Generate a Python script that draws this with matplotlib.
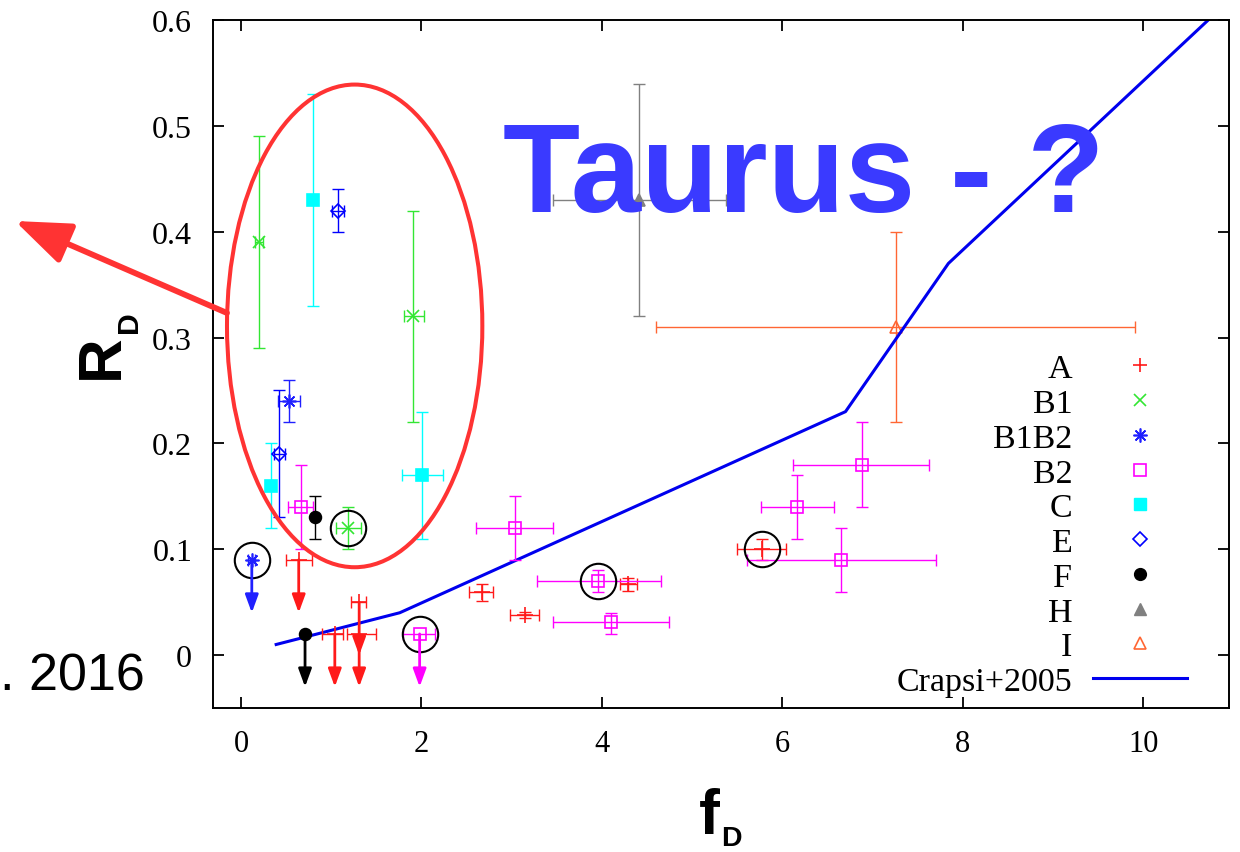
import numpy as np
import matplotlib.pyplot as plt
from matplotlib.lines import Line2D
from matplotlib.patches import Ellipse, FancyArrowPatch

plt.rcParams['font.family'] = 'Liberation Serif'

nan = np.nan

# ---- values ----
# detections: x, y, x range (lo, hi), y range (lo, hi); nan = no bar
A_x   = [2.67, 3.15, 4.29, 5.77]
A_y   = [0.060, 0.038, 0.067, 0.100]
A_xlo = [2.53, 2.98, 4.20, 5.50]
A_xhi = [2.79, 3.30, 4.39, 6.04]
A_ylo = [0.051, 0.035, 0.061, 0.090]
A_yhi = [0.067, 0.041, 0.073, 0.110]
# upper limits (arrow down): x, y, x range
A_ul_x   = [0.64, 1.04, 1.31, 1.31]
A_ul_y   = [0.090, 0.020, 0.020, 0.050]
A_ul_xlo = [0.50, 0.90, 1.17, 1.22]
A_ul_xhi = [0.79, 1.13, 1.50, 1.39]

B1_x   = [0.20, 1.91, 1.19]
B1_y   = [0.39, 0.32, 0.12]
B1_xlo = [0.16, 1.81, 1.05]
B1_xhi = [0.24, 2.03, 1.33]
B1_ylo = [0.29, 0.22, 0.10]
B1_yhi = [0.49, 0.42, 0.14]

B1B2_x   = [0.53]
B1B2_y   = [0.24]
B1B2_xlo = [0.41]
B1B2_xhi = [0.65]
B1B2_ylo = [0.22]
B1B2_yhi = [0.26]
B1B2_ul_x   = [0.12]
B1B2_ul_y   = [0.09]
B1B2_ul_xlo = [0.08]
B1B2_ul_xhi = [0.16]

B2_x   = [0.66, 3.04, 3.96, 4.10, 6.16, 6.88, 6.65]
B2_y   = [0.14, 0.12, 0.07, 0.031, 0.14, 0.18, 0.09]
B2_xlo = [0.52, 2.61, 3.28, 3.46, 5.76, 6.12, 5.61]
B2_xhi = [0.80, 3.46, 4.65, 4.74, 6.57, 7.63, 7.70]
B2_ylo = [0.10, 0.09, 0.06, 0.02, 0.11, 0.14, 0.06]
B2_yhi = [0.18, 0.15, 0.08, 0.04, 0.17, 0.22, 0.12]
B2_ul_x   = [1.98]
B2_ul_y   = [0.02]
B2_ul_xlo = [1.80]
B2_ul_xhi = [2.15]

C_x   = [0.80, 0.33, 2.01]
C_y   = [0.43, 0.16, 0.17]
C_xlo = [nan, nan, 1.79]
C_xhi = [nan, nan, 2.24]
C_ylo = [0.33, 0.12, 0.11]
C_yhi = [0.53, 0.20, 0.23]

E_x   = [1.08, 0.42]
E_y   = [0.42, 0.19]
E_xlo = [1.01, 0.37]
E_xhi = [1.14, 0.49]
E_ylo = [0.40, 0.13]
E_yhi = [0.44, 0.25]

F_x   = [0.82]
F_y   = [0.13]
F_xlo = [nan]
F_xhi = [nan]
F_ylo = [0.11]
F_yhi = [0.15]
F_ul_x   = [0.71]
F_ul_y   = [0.02]
F_ul_xlo = [nan]
F_ul_xhi = [nan]

H_x, H_y = [4.41], [0.43]
H_xlo, H_xhi = [3.46], [5.37]
H_ylo, H_yhi = [0.32], [0.54]

I_x, I_y = [7.26], [0.31]
I_xlo, I_xhi = [4.60], [9.91]
I_ylo, I_yhi = [0.22], [0.40]

# Crapsi+2005 relation
crapsi_x = [0.39, 1.76, 6.70, 7.84, 10.72]
crapsi_y = [0.01, 0.04, 0.23, 0.37, 0.60]

# circled sources
circ_x = [0.12, 1.19, 1.98, 3.96, 5.77]
circ_y = [0.09, 0.12, 0.02, 0.07, 0.10]

ARROW = 0.05   # length of the upper-limit arrows

W, H = 1240, 853
fig = plt.figure(figsize=(W / 100, H / 100), dpi=100)
ax = fig.add_axes([213 / W, 1 - 709 / H, (1229 - 213) / W, (709 - 21) / H])


def draw(x, y, xlo, xhi, ylo, yhi, color, marker, mfc, ms=8.5):
    x, y = np.asarray(x, float), np.asarray(y, float)
    xlo, xhi, ylo, yhi = [np.asarray(a, float) for a in (xlo, xhi, ylo, yhi)]
    m = ~np.isnan(ylo)
    if m.any():
        ax.errorbar(x[m], y[m], yerr=[y[m] - ylo[m], yhi[m] - y[m]], fmt='none',
                    ecolor=color, elinewidth=1, capsize=4.5, capthick=1)
    m = ~np.isnan(xlo)
    if m.any():
        ax.errorbar(x[m], y[m], xerr=[x[m] - xlo[m], xhi[m] - x[m]], fmt='none',
                    ecolor=color, elinewidth=1, capsize=4.5, capthick=1)
    ax.plot(x, y, ls='none', marker=marker, color=color, mfc=mfc, ms=ms, mew=1.2)


def draw_ul(x, y, xlo, xhi, color, marker, mfc, ms=8.5):
    n = len(x)
    draw(x, y, xlo, xhi, [nan] * n, [nan] * n, color, marker, mfc, ms)
    for xi, yi in zip(x, y):
        ax.annotate('', xy=(xi, yi - ARROW), xytext=(xi, yi),
                    arrowprops=dict(arrowstyle='-|>,head_length=0.6,head_width=0.22',
                                    color=color, lw=2, mutation_scale=18,
                                    shrinkA=0, shrinkB=0))


c_A, c_B1, c_B1B2, c_B2 = '#ff1a1a', '#33e633', '#2020ff', '#ff00ff'
c_C, c_E, c_F, c_H, c_I = '#00ffff', '#0000ff', 'black', '#808080', '#ff6633'
star = (8, 2, 0)

draw(H_x, H_y, H_xlo, H_xhi, H_ylo, H_yhi, c_H, '^', c_H)
draw(I_x, I_y, I_xlo, I_xhi, I_ylo, I_yhi, c_I, '^', 'none')
ax.plot(crapsi_x, crapsi_y, color='#0000ee', lw=2.2)
draw(A_x, A_y, A_xlo, A_xhi, A_ylo, A_yhi, c_A, '+', c_A, 11)
draw_ul(A_ul_x, A_ul_y, A_ul_xlo, A_ul_xhi, c_A, '+', c_A, 11)
draw(B1_x, B1_y, B1_xlo, B1_xhi, B1_ylo, B1_yhi, c_B1, 'x', c_B1)
draw(B1B2_x, B1B2_y, B1B2_xlo, B1B2_xhi, B1B2_ylo, B1B2_yhi, c_B1B2, star, c_B1B2, 10)
draw_ul(B1B2_ul_x, B1B2_ul_y, B1B2_ul_xlo, B1B2_ul_xhi, c_B1B2, star, c_B1B2, 10)
draw(B2_x, B2_y, B2_xlo, B2_xhi, B2_ylo, B2_yhi, c_B2, 's', 'none')
draw_ul(B2_ul_x, B2_ul_y, B2_ul_xlo, B2_ul_xhi, c_B2, 's', 'none')
draw(C_x, C_y, C_xlo, C_xhi, C_ylo, C_yhi, c_C, 's', c_C)
draw(E_x, E_y, E_xlo, E_xhi, E_ylo, E_yhi, c_E, 'D', 'none', 7)
draw(F_x, F_y, F_xlo, F_xhi, F_ylo, F_yhi, c_F, 'o', c_F)
draw_ul(F_ul_x, F_ul_y, F_ul_xlo, F_ul_xhi, c_F, 'o', c_F)

ax.plot(circ_x, circ_y, ls='none', marker='o', mfc='none', mec='black', ms=25.5, mew=1.5)

ax.set_xlim(-0.31, 10.95)
ax.set_ylim(-0.05, 0.6)
ax.set_xticks([0, 2, 4, 6, 8, 10])
ax.set_yticks([0, 0.1, 0.2, 0.3, 0.4, 0.5, 0.6])
ax.set_yticklabels(['0', '0.1', '0.2', '0.3', '0.4', '0.5', '0.6'])
ax.tick_params(direction='in', top=True, right=True, length=8, width=1.3,
               labelsize=22, pad=15)
ax.tick_params(axis='y', labelsize=23)
for s in ax.spines.values():
    s.set_linewidth(1.4)

handles = [
    Line2D([], [], ls='none', marker='+', color=c_A, ms=10, mew=1.2),
    Line2D([], [], ls='none', marker='x', color=c_B1, ms=8.5, mew=1.2),
    Line2D([], [], ls='none', marker=star, color=c_B1B2, ms=10, mew=1.2),
    Line2D([], [], ls='none', marker='s', color=c_B2, mfc='none', ms=8.5, mew=1.2),
    Line2D([], [], ls='none', marker='s', color=c_C, ms=8.5),
    Line2D([], [], ls='none', marker='D', color=c_E, mfc='none', ms=7, mew=1.2),
    Line2D([], [], ls='none', marker='o', color=c_F, ms=8.5),
    Line2D([], [], ls='none', marker='^', color=c_H, ms=8.5),
    Line2D([], [], ls='none', marker='^', color=c_I, mfc='none', ms=8.5, mew=1.2),
    Line2D([], [], color='#0000ee', lw=2.2),
]
labels = ['A', 'B1', 'B1B2', 'B2', 'C', 'E', 'F', 'H', 'I', 'Crapsi+2005']
ax.legend(handles, labels, loc='lower right', bbox_to_anchor=(0.9587, 0.016),
          frameon=False, markerfirst=False, numpoints=1, handlelength=2.75,
          handletextpad=0.62, labelspacing=0.115, borderpad=0, borderaxespad=0,
          fontsize=24.5)

# annotations drawn over the plot
ax.add_patch(Ellipse((1.26, 0.311), 2.83, 0.456, fill=False, ec='#ff3333', lw=2.9,
                     clip_on=False, zorder=5))
fig.patches.append(FancyArrowPatch((227 / W, 1 - 314 / H), (15 / W, 1 - 222 / H),
                                   transform=fig.transFigure,
                                   arrowstyle='-|>,head_length=34,head_width=13',
                                   mutation_scale=1, color='#ff3333', lw=4.2,
                                   shrinkA=0, shrinkB=0))

fig.text(503 / W, 1 - 212 / H, 'Taurus - ?', color='#3a3aff', fontsize=91,
         fontweight='bold', family='Liberation Sans', ha='left', va='baseline')
fig.text(145 / W, 1 - 691 / H, '. 2016', color='black', fontsize=37.5,
         family='Liberation Sans', ha='right', va='baseline')

# axis labels R_D and f_D
fig.text(118 / W, 1 - 357 / H, 'R', fontsize=44.5, fontweight='bold',
         family='Liberation Sans', rotation=90, rotation_mode='anchor',
         ha='center', va='baseline')
fig.text(137 / W, 1 - 322 / H, 'D', fontsize=21.7, fontweight='bold',
         family='Liberation Sans', rotation=90, rotation_mode='anchor',
         ha='center', va='baseline')
fig.text(709 / W, 1 - 834 / H, 'f', fontsize=45, fontweight='bold',
         family='Liberation Sans', ha='center', va='baseline')
fig.text(731 / W, 1 - 846 / H, 'D', fontsize=20.5, fontweight='bold',
         family='Liberation Sans', ha='center', va='baseline')

fig.savefig('out.png', dpi=100)
